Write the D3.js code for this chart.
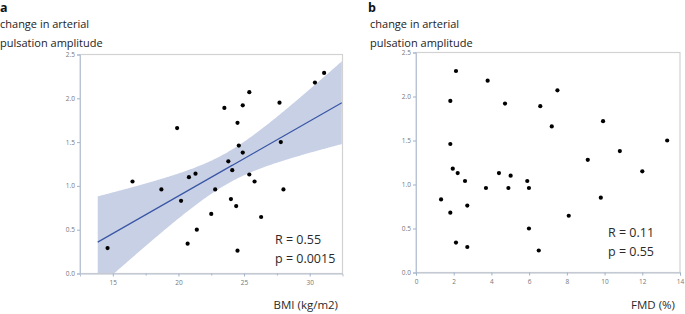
<!DOCTYPE html>
<html><head><meta charset="utf-8">
<script src="https://cdn.jsdelivr.net/npm/d3@7"></script>
<style>
body{margin:0;background:#fff;}
svg{display:block;}
text{font-family:"Open Sans","Noto Sans",sans-serif;}
</style></head>
<body>
<svg id="chart" width="685" height="314"></svg>
<script>
// Panel a: BMI vs change in arterial pulsation amplitude
const bmiX = [16.5,18.7,19.9,20.8,21.3,22.8,23.5,23.8,24.1,24.5,24.6,24.9,24.9,25.4,25.4,25.8,27.7,27.8,28.0,30.4,31.1,14.6,20.2,20.7,21.4,22.5,24.0,24.4,24.5,26.3];
const bmiY = [1.05,0.96,1.66,1.10,1.14,0.96,1.89,1.28,1.18,1.72,1.46,1.38,1.92,2.07,1.13,1.05,1.95,1.50,0.96,2.18,2.29,0.29,0.83,0.34,0.50,0.68,0.85,0.77,0.26,0.645];
// Panel b: FMD vs change in arterial pulsation amplitude
const fmdX = [2.12,3.80,1.82,4.72,6.59,1.82,1.95,2.21,2.60,4.40,5.02,5.90,5.99,3.71,4.90,1.33,2.72,1.82,5.99,2.12,2.72,6.51,7.50,7.20,9.92,13.32,10.81,9.11,12.0,9.80,8.10];
const fmdY = [2.29,2.18,1.95,1.92,1.89,1.46,1.18,1.13,1.04,1.13,1.10,1.04,0.96,0.96,0.96,0.83,0.76,0.68,0.50,0.34,0.29,0.25,2.07,1.66,1.72,1.50,1.38,1.28,1.15,0.85,0.645];

const yTicks = [0.0,0.5,1.0,1.5,2.0,2.5];
const bmiTicks = [15,20,25,30];
const bmiMinor = [17.5,22.5,27.5];
const fmdTicks = [0,2,4,6,8,10,12,14];
const yLabelLines = ["change in arterial","pulsation amplitude"];
const stats = {a:["R = 0.55","p = 0.0015"], b:["R = 0.11","p = 0.55"]};

const svg = d3.select("#chart");

function panel(cfg){
  const g = svg.append("g");
  const x = d3.scaleLinear().domain(cfg.xDomain).range([cfg.left, cfg.right]);
  const y = d3.scaleLinear().domain([0,2.5]).range([cfg.bottom, cfg.top]);
  const clipId = "clip"+cfg.id;
  svg.append("clipPath").attr("id",clipId).append("rect")
    .attr("x",cfg.left).attr("y",cfg.top).attr("width",cfg.right-cfg.left).attr("height",cfg.bottom-cfg.top);

  // letter + y label
  g.append("text").attr("x",cfg.letterX).attr("y",11.5).attr("font-size",12.5).attr("font-weight","bold")
    .attr("fill","#111").text(cfg.id);
  yLabelLines.forEach((t,i)=>{
    g.append("text").attr("x",cfg.labelX).attr("y",27.5+i*19).attr("font-size",11)
      .attr("fill","#222").text(t);
  });

  // regression band + line
  if(cfg.fit){
    const xs = cfg.xs, ys = cfg.ys, n = xs.length;
    const mx = d3.mean(xs), my = d3.mean(ys);
    let sxy=0,sxx=0,syy=0;
    xs.forEach((v,i)=>{sxy+=(v-mx)*(ys[i]-my); sxx+=(v-mx)**2; syy+=(ys[i]-my)**2;});
    const b = sxy/sxx, a0 = my-b*mx;
    const s = Math.sqrt((syy - sxy*sxy/sxx)/(n-2));
    const t = 2.048;
    const grid = d3.range(cfg.fit[0], cfg.fit[1]+0.001, 0.1);
    const band = grid.map(v=>{
      const yh = a0+b*v, hw = t*s*Math.sqrt(1/n + (v-mx)**2/sxx);
      return {v, lo:yh-hw, hi:yh+hw, yh};
    });
    g.append("path").attr("clip-path",`url(#${clipId})`)
      .attr("d", d3.area().x(d=>x(d.v)).y0(d=>y(d.lo)).y1(d=>y(d.hi))(band))
      .attr("fill","#c8d0e5").attr("stroke","none");
    g.append("path").attr("clip-path",`url(#${clipId})`)
      .attr("d", d3.line().x(d=>x(d.v)).y(d=>y(d.yh))(band))
      .attr("fill","none").attr("stroke","#3a57a6").attr("stroke-width",1.2);
  }

  // frame
  g.append("rect").attr("x",cfg.left).attr("y",cfg.top).attr("width",cfg.right-cfg.left)
    .attr("height",cfg.bottom-cfg.top).attr("fill","none").attr("stroke","#d2d2d2").attr("stroke-width",1.2);

  // axes
  const yAxis = d3.axisLeft(y).tickValues(yTicks).tickFormat(d3.format(".1f")).tickSize(3).tickPadding(2);
  const ya = g.append("g").attr("transform",`translate(${cfg.left},0)`).call(yAxis);
  const xAxis = d3.axisBottom(x).tickValues(cfg.xTicks).tickFormat(d3.format("d")).tickSize(3).tickPadding(4);
  const xa = g.append("g").attr("transform",`translate(0,${cfg.bottom})`).call(xAxis);
  [ya,xa].forEach(ax=>{
    ax.select(".domain").attr("stroke","#b9c3d2");
    ax.selectAll(".tick line").attr("stroke","#9fb2cc");
    ax.selectAll(".tick text").attr("fill","#777").attr("font-size",6.5);
  });
  if(cfg.minor){
    g.append("g").attr("transform",`translate(0,${cfg.bottom})`)
      .call(d3.axisBottom(x).tickValues(cfg.minor).tickFormat("").tickSize(2))
      .call(ax=>{ax.select(".domain").remove(); ax.selectAll("line").attr("stroke","#9fb2cc");});
  }

  // points
  g.append("g").selectAll("circle").data(cfg.xs.map((v,i)=>[v,cfg.ys[i]])).join("circle")
    .attr("cx",d=>x(d[0])).attr("cy",d=>y(d[1])).attr("r",2.1).attr("fill","#000");

  // stats
  cfg.stats.forEach((t,i)=>{
    g.append("text").attr("x",cfg.statX).attr("y",cfg.statY+i*19).attr("font-size",12.5)
      .attr("fill","#2a2a2a").text(t);
  });
  // x label
  g.append("text").attr("x",cfg.xLabelX).attr("y",309).attr("text-anchor","end").attr("font-size",11.5)
    .attr("fill","#2a2a2a").text(cfg.xLabel);
}

panel({id:"a", xs:bmiX, ys:bmiY, xDomain:[12.5,32.5], left:80, right:342.5, top:54.5, bottom:273.5,
  xTicks:bmiTicks, minor:bmiMinor, fit:[13.85,32.5], letterX:0, labelX:0,
  stats:stats.a, statX:275, statY:244, xLabel:"BMI (kg/m2)", xLabelX:338});
panel({id:"b", xs:fmdX, ys:fmdY, xDomain:[0,14], left:416, right:680, top:52.5, bottom:272.5,
  xTicks:fmdTicks, minor:null, fit:null, letterX:368, labelX:370,
  stats:stats.b, statX:608, statY:237, xLabel:"FMD (%)", xLabelX:675});
</script>
</body></html>
